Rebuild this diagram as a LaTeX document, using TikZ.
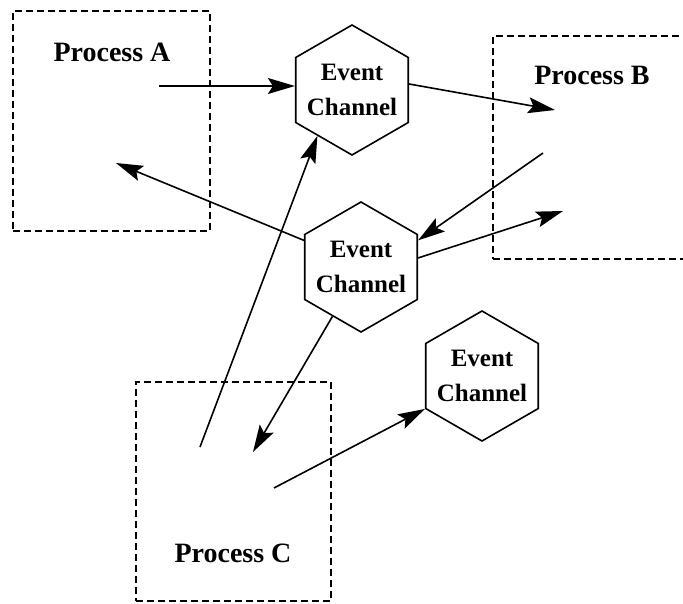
\documentclass[tikz,border=0pt]{standalone}
\usepackage{fontspec}
\setmainfont{Liberation Serif}
\usetikzlibrary{shapes.geometric,arrows.meta}

\begin{document}
\begin{tikzpicture}[x=1pt,y=-1pt,
  procbox/.style={draw, line width=1.6pt, dash pattern=on 7pt off 4pt, inner sep=0pt},
  proclabel/.style={font=\fontsize{28}{32}\selectfont\bfseries, inner sep=0pt},
  channel/.style={draw, line width=1.6pt, regular polygon, regular polygon sides=6,
    shape border rotate=30, minimum size=130pt, inner sep=0pt},
  chanlabel/.style={align=center, inner sep=0pt, font=\fontsize{25}{35}\selectfont\bfseries},
  flow/.style={line width=1.6pt, -{Stealth[length=27pt,width=16pt,inset=5pt]}}]

  \clip (0,0) rectangle (683,604);

  % process regions
  \node[procbox, minimum width=197pt, minimum height=220pt] (pa) at (111.5,121) {};
  \node[procbox, minimum width=207pt, minimum height=223pt] (pb) at (596.5,147.5) {};
  \node[procbox, minimum width=195pt, minimum height=219pt] (pc) at (233.5,491.5) {};

  \node[proclabel] (la) at (112,52) {Process A};
  \node[proclabel] (lb) at (592,75) {Process B};
  \node[proclabel] (lc) at (233,553) {Process C};

  % event channels
  \node[channel] (h1) at (352,90) {};
  \node[channel] (h2) at (361,267) {};
  \node[channel] (h3) at (482,376) {};
  \node[chanlabel] (t1) at (h1.center) {Event\\Channel};
  \node[chanlabel] (t2) at (h2.center) {Event\\Channel};
  \node[chanlabel] (t3) at (h3.center) {Event\\Channel};

  % free ends of the connectors
  \coordinate (a1) at (159,86);
  \coordinate (a2) at (116,163);
  \coordinate (b1) at (555,110);
  \coordinate (b2) at (543,153);
  \coordinate (b3) at (563,211);
  \coordinate (c1) at (200,447);
  \coordinate (c2) at (253,452);
  \coordinate (c3) at (274,488);

  % event flow
  \draw[flow] (a1) -- (h1.176);
  \draw[flow] (h1.6) -- (b1);
  \draw[flow] (b2) -- (h2.25);
  \draw[flow] (h2.9) -- (b3);
  \draw[flow] (h2.155) -- (a2);
  \draw[flow] (c1) -- (h1.233);
  \draw[flow] (h2.240) -- (c2);
  \draw[flow] (c3) -- (h3.210);
\end{tikzpicture}
\end{document}
